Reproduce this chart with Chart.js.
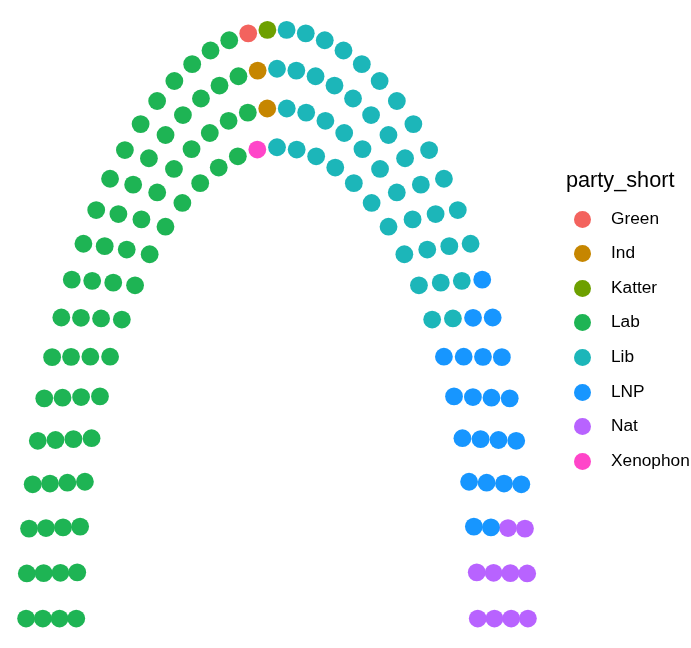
<!DOCTYPE html>
<html>
<head>
<meta charset="utf-8">
<script src="https://cdn.jsdelivr.net/npm/chart.js@4.4.1/dist/chart.umd.min.js"></script>
<style>
  html, body { margin: 0; padding: 0; background: #ffffff; }
  #wrap { position: relative; width: 691px; height: 648px; overflow: hidden; }
  #c { position: absolute; left: 0; top: 0; }
  #legend { position: absolute; left: 0; top: 0; width: 691px; height: 648px; pointer-events: none;
            font-family: "Liberation Sans", Arial, sans-serif; color: #000; }
  .ltitle { position: absolute; left: 566px; font-size: 21.7px; line-height: 1; white-space: nowrap; }
  .lkey { position: absolute; width: 17px; height: 17px; border-radius: 50%; }
  .ltext { position: absolute; left: 611px; font-size: 17.3px; line-height: 1; white-space: nowrap; }
</style>
</head>
<body>
<div id="wrap">
  <canvas id="c" width="691" height="648"></canvas>
  <div id="legend"></div>
</div>
<script>
// ---- Data (2016 Australian House of Representatives) ----
// parties in plotting (seat assignment) order, left to right around the horseshoe
const plotParties = ['Lab', 'Green', 'Xenophon', 'Ind', 'Katter', 'Lib', 'LNP', 'Nat'];
const plotSeats   = [69, 1, 1, 2, 1, 45, 21, 10];
// legend (factor level) order
const legendParties = ['Green', 'Ind', 'Katter', 'Lab', 'Lib', 'LNP', 'Nat', 'Xenophon'];
const legendTitle = 'party_short';
const parlRows = 4;
const radiusLimits = [0.8, 1.0];

// ---- Styles ----
const partyColors = {
  Green: '#F3635E', Ind: '#C68600', Katter: '#6DA000', Lab: '#1EB454',
  Lib: '#1CB6B9', LNP: '#1796FF', Nat: '#B863FF', Xenophon: '#FF45C9'
};

// ---- Parliament layout (semicircle rows, seats spread by radius) ----
function calcCoordinates(N, M, limits) {
  const radii = [];
  for (let i = 0; i < M; i++) radii.push(limits[0] + (limits[1] - limits[0]) * i / (M - 1));
  const pts = [];
  for (let i = 0; i < M; i++) {
    let rest = 0;
    for (let j = i; j < M; j++) rest += radii[j];
    const count = Math.round(N * radii[i] / rest);
    for (let k = 0; k < count; k++) {
      const theta = count > 1 ? (k === count - 1 ? Math.PI : k * Math.PI / (count - 1)) : Math.PI / 2;
      pts.push({ x: radii[i] * Math.cos(theta), y: radii[i] * Math.sin(theta), row: i + 1, theta: theta });
    }
    N -= count;
  }
  pts.sort((a, b) => (b.theta - a.theta) || (b.row - a.row));
  return pts;
}

const totalSeats = plotSeats.reduce((a, b) => a + b, 0);
const layout = calcCoordinates(totalSeats, parlRows, radiusLimits);

const byParty = {};
let idx = 0;
plotParties.forEach((p, i) => {
  byParty[p] = [];
  for (let s = 0; s < plotSeats[i]; s++) {
    const pt = layout[idx++];
    byParty[p].push({ x: pt.x, y: pt.y });
  }
});

const datasets = plotParties.map(p => ({
  label: p,
  data: byParty[p],
  backgroundColor: partyColors[p],
  borderColor: partyColors[p],
  borderWidth: 0,
  pointRadius: 8.9,
  pointHoverRadius: 8.9,
  clip: false
}));

new Chart(document.getElementById('c'), {
  type: 'scatter',
  data: { datasets },
  options: {
    responsive: false,
    animation: false,
    devicePixelRatio: 1,
    layout: { autoPadding: false, padding: { left: 1, right: 138, top: 0, bottom: 0 } },
    scales: {
      x: { type: 'linear', display: false, min: -1.1, max: 1.1 },
      y: { type: 'linear', display: false, min: -0.05, max: 1.05 }
    },
    plugins: { legend: { display: false }, tooltip: { enabled: false } }
  }
});

// ---- Legend ----
const leg = document.getElementById('legend');
const t = document.createElement('div');
t.className = 'ltitle';
t.textContent = legendTitle;
t.style.top = (182 - 13) + 'px';
leg.appendChild(t);
legendParties.forEach((p, i) => {
  const cy = 219 + i * 34.6;
  const k = document.createElement('div');
  k.className = 'lkey';
  k.style.background = partyColors[p];
  k.style.left = (582 - 8.5) + 'px';
  k.style.top = (cy - 8.5) + 'px';
  leg.appendChild(k);
  const tx = document.createElement('div');
  tx.className = 'ltext';
  tx.textContent = p;
  tx.style.top = (cy - 9.5) + 'px';
  leg.appendChild(tx);
});
</script>
</body>
</html>
